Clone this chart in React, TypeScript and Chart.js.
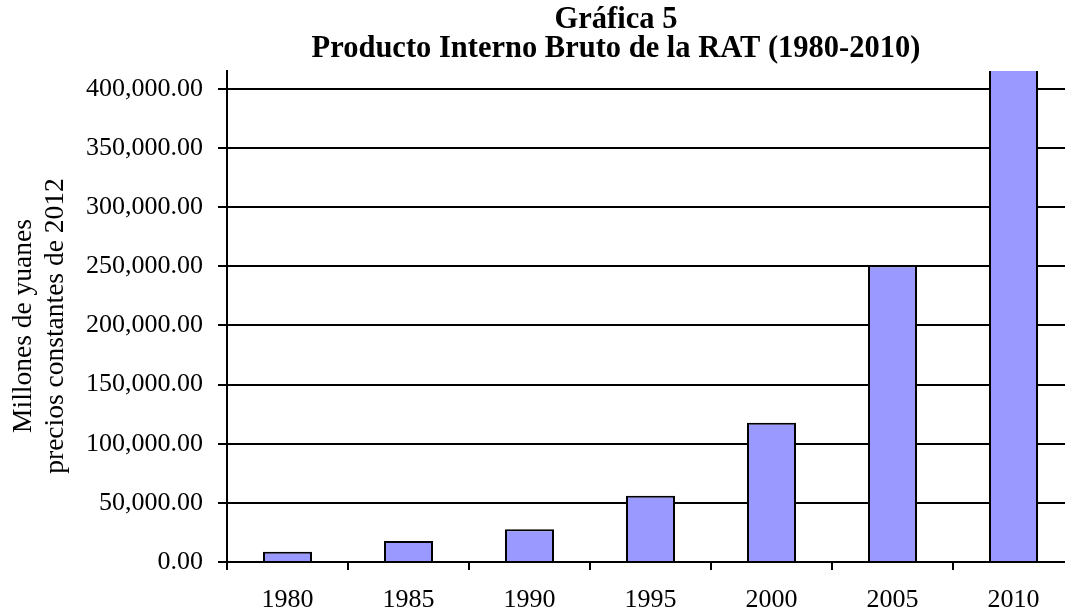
import React, { useEffect, useRef } from "react";
import { Chart, registerables } from "chart.js";

Chart.register(...registerables);

const categories: string[] = ["1980", "1985", "1990", "1995", "2000", "2005", "2010"];
const gdpValues: number[] = [8670, 17760, 27700, 55980, 117800, 251000, 507460];
const yTickValues: number[] = [0, 50000, 100000, 150000, 200000, 250000, 300000, 350000, 400000];
const titleLines: string[] = ["Gráfica 5", "Producto Interno Bruto de la RAT (1980-2010)"];
const yTitleLines: string[] = ["Millones de yuanes", "precios constantes de 2012"];
const yMin = 0;
const yMax = 415200;

const SERIF = '"Liberation Serif", "Times New Roman", serif';

const titlePlugin = {
  id: "customTitles",
  afterDraw(chart: any) {
    const ctx = chart.ctx as CanvasRenderingContext2D;
    ctx.save();
    ctx.fillStyle = "#000";
    ctx.font = `bold 30.5px ${SERIF}`;
    ctx.textAlign = "center";
    ctx.textBaseline = "alphabetic";
    ctx.fillText(titleLines[0], 616, 28);
    ctx.fillText(titleLines[1], 616, 57);

    ctx.font = `27.5px ${SERIF}`;
    ctx.translate(0, 326);
    ctx.rotate(-Math.PI / 2);
    ctx.fillText(yTitleLines[0], 0, 31);
    ctx.fillText(yTitleLines[1], 0, 63);
    ctx.restore();
  },
};

export default function App() {
  const ref = useRef<HTMLCanvasElement | null>(null);

  useEffect(() => {
    if (!ref.current) return;
    const chart = new Chart(ref.current, {
      type: "bar",
      data: {
        labels: categories,
        datasets: [
          {
            data: gdpValues,
            backgroundColor: "#9999FF",
            borderColor: "#000000",
            borderWidth: 2,
            barPercentage: 0.405,
            categoryPercentage: 1,
          },
        ],
      },
      options: {
        animation: false,
        responsive: false,
        maintainAspectRatio: false,
        layout: { padding: { top: 71, left: 0, right: 2, bottom: 0 } },
        plugins: {
          legend: { display: false },
          title: { display: false },
          tooltip: { enabled: false },
        },
        scales: {
          x: {
            offset: true,
            grid: {
              display: true,
              offset: true,
              drawOnChartArea: false,
              drawTicks: true,
              tickLength: 8,
              color: "#000",
              lineWidth: 2,
            },
            border: { display: true, color: "#000", width: 2 },
            ticks: {
              color: "#000",
              padding: 15,
              maxRotation: 0,
              autoSkip: false,
              font: { family: SERIF, size: 26 },
            },
            afterFit: (scale: any) => {
              scale.height = 49;
            },
          },
          y: {
            min: yMin,
            max: yMax,
            grid: {
              color: "#000",
              lineWidth: 2,
              drawTicks: true,
              tickLength: 9,
            },
            border: { display: true, color: "#000", width: 2 },
            ticks: {
              color: "#000",
              padding: 15,
              autoSkip: false,
              font: { family: SERIF, size: 26 },
              callback: (v: any) =>
                Number(v).toLocaleString("en-US", {
                  minimumFractionDigits: 2,
                  maximumFractionDigits: 2,
                }),
            },
            afterBuildTicks: (scale: any) => {
              scale.ticks = yTickValues.map((value) => ({ value }));
            },
            afterFit: (scale: any) => {
              scale.width = 227;
            },
          },
        },
      },
      plugins: [titlePlugin],
    });
    return () => chart.destroy();
  }, []);

  return (
    <div
      style={{
        position: "fixed",
        left: 0,
        top: 0,
        width: 1065,
        height: 611,
        overflow: "hidden",
        background: "#fff",
      }}
    >
      <canvas ref={ref} width={1076} height={611} style={{ display: "block" }} />
    </div>
  );
}
